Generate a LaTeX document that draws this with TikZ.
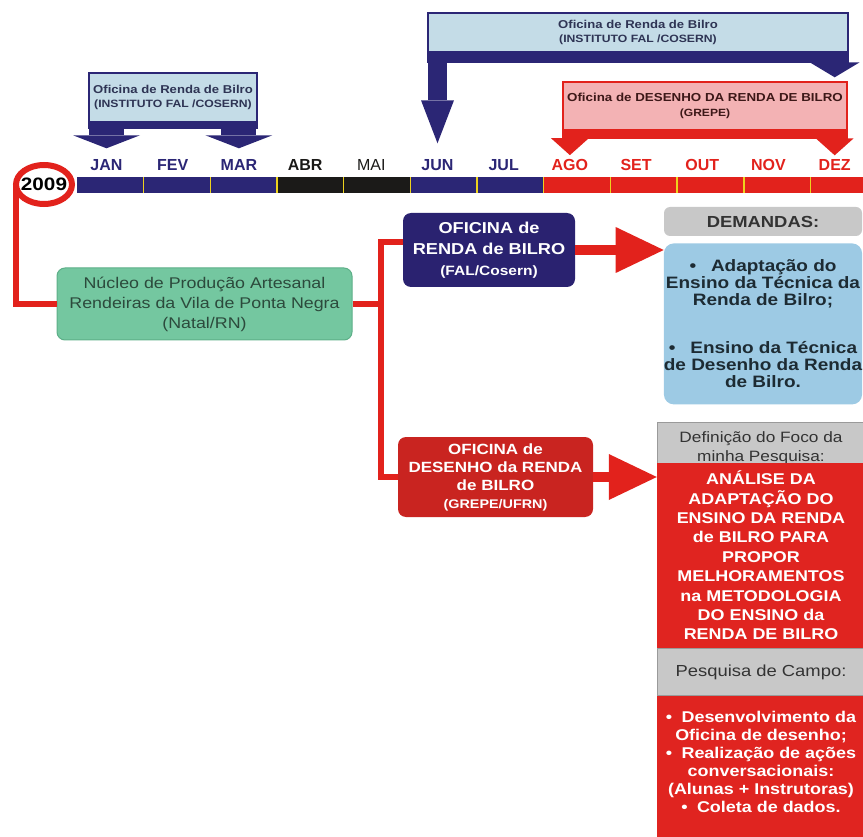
\documentclass[tikz,border=0pt]{standalone}
\usepackage{fontspec}
\setmainfont[FakeStretch=1.15]{Liberation Sans}
\newfontfamily\monthfont{Liberation Sans}
\usetikzlibrary{shapes.geometric, arrows.meta, positioning, calc}
\definecolor{tlnavy}{HTML}{2B2675}
\definecolor{tlred}{HTML}{E2221C}
\definecolor{tlblack}{HTML}{1B1A18}
\definecolor{tlyellow}{HTML}{EDD21E}
\definecolor{boxnavy}{HTML}{2A2270}
\definecolor{boxdark}{HTML}{C92420}
\definecolor{boxred}{HTML}{E02420}
\definecolor{paleblue}{HTML}{C4DCE7}
\definecolor{palepink}{HTML}{F3B2B4}
\definecolor{mint}{HTML}{74C7A0}
\definecolor{mintedge}{HTML}{5DAF88}
\definecolor{minttext}{HTML}{2C4A3C}
\definecolor{skyblue}{HTML}{9DCAE4}
\definecolor{demtext}{HTML}{1D2B33}
\definecolor{tabgray}{HTML}{C8C8C8}
\definecolor{tabedge}{HTML}{9A9A9A}
\definecolor{tabtext}{HTML}{333333}
\definecolor{tophead}{HTML}{2E3454}
\definecolor{grepetext}{HTML}{3D1818}

\begin{document}
\begin{tikzpicture}[
    x=1pt, y=-1pt,
    seg/.style={
        fill=#1, rectangle, inner sep=0pt,
        minimum width=66.67pt, minimum height=16pt, anchor=west,
    },
    monthlbl/.style={
        font=\monthfont\fontsize{16}{16}\selectfont,
        text=#1, anchor=base, inner sep=0pt,
    },
    bracketbox/.style={
        draw=#1, line width=2pt, rectangle,
        inner sep=2pt, align=center,
        font=\fontsize{11.4}{14}\selectfont\bfseries,
    },
    link/.style={draw=tlred, line width=6pt},
    oficina/.style={
        fill=#1, rectangle, rounded corners=8pt,
        align=center, text=white, inner sep=2pt,
    },
    bigarrow/.style={
        draw=tlred, line width=10pt,
        -{Triangle[length=48pt, width=46pt, line width=0pt]},
    },
    graytab/.style={
        fill=tabgray, rectangle, align=center,
        text=tabtext, inner sep=0pt,
    },
    redcol/.style={
        fill=boxred, rectangle, align=center, text=white,
        inner sep=0pt, minimum width=208pt,
    },
]

\useasboundingbox (0,0) rectangle (863,837);

% timeline
\foreach \c [count=\i from 0] in {tlnavy,tlnavy,tlnavy,tlblack,tlblack,tlnavy,tlnavy,tlred,tlred,tlred,tlred,tlred}
    \node[seg=\c] (s\i) at ({77+66.67*\i},185) {};
\foreach \i in {1,...,11}
    \draw[tlyellow, line width=1.6pt] (s\i.north west) -- (s\i.south west);

\foreach \m/\c/\w [count=\i from 0] in {JAN/tlnavy/bx, FEV/tlnavy/bx, MAR/tlnavy/bx, ABR/tlblack/bx, MAI/tlblack/m, JUN/tlnavy/bx, JUL/tlnavy/bx, AGO/tlred/bx, SET/tlred/bx, OUT/tlred/bx, NOV/tlred/bx, DEZ/tlred/bx}
    \node[monthlbl=\c] (m\i) at ({106.5+66.2*\i},171) {\fontseries{\w}\selectfont\m};

\node[ellipse, draw=tlred, line width=6pt, minimum width=56pt, minimum height=39pt, inner sep=0pt] (yr) at (44,184.5) {};
\node[font=\fontsize{18}{18}\selectfont\bfseries, inner sep=0pt] (yrtxt) at (yr) {2009};

% upper brackets
\node[bracketbox=tlnavy, fill=paleblue, text=tophead, minimum width=168pt, minimum height=49pt] (topl) at (173,97.5) {%
    Oficina de Renda de Bilro\\{\fontsize{10.6}{14}\selectfont(INSTITUTO FAL /COSERN)}};
\fill[tlnavy] (topl.south west) rectangle ([yshift=-6pt]topl.south east);
\draw[tlnavy, line width=35pt, -{Triangle[length=13pt, width=67pt, line width=0pt]}, shorten >=11.5pt] (topl.south -| m0) -- (m0.north);
\draw[tlnavy, line width=35pt, -{Triangle[length=13pt, width=67pt, line width=0pt]}, shorten >=11.5pt] (topl.south -| m2) -- (m2.north);

\node[bracketbox=tlnavy, fill=paleblue, text=tophead, minimum width=420pt, minimum height=39pt] (topr) at (638,32.5) {%
    Oficina de Renda de Bilro\\{\fontsize{10.6}{14}\selectfont(INSTITUTO FAL /COSERN)}};
\fill[tlnavy] (topr.south west) rectangle ([yshift=-10pt]topr.south east);
\draw[tlnavy, line width=19pt, -{Triangle[length=43pt, width=33pt, line width=0pt]}, shorten >=16.5pt] (topr.south -| m5) -- (m5.north);
\draw[tlnavy, line width=1pt, -{Triangle[length=15pt, width=50pt, line width=0pt]}, shorten >=82.5pt] (topr.south -| m11) -- (m11.north);

\node[bracketbox=tlred, fill=palepink, text=grepetext, minimum width=284pt, minimum height=48pt, font=\fontsize{11.6}{15}\selectfont\bfseries] (grep) at (705,106) {%
    Oficina de DESENHO DA RENDA DE BILRO\\{\fontsize{10.5}{15}\selectfont(GREPE)}};
\fill[tlred] (grep.south west) rectangle ([yshift=-8pt]grep.south east);
\draw[tlred, line width=1pt, -{Triangle[length=17pt, width=38pt, line width=0pt]}, shorten >=4.5pt] (grep.south -| m7) -- (m7.north);
\draw[tlred, line width=1pt, -{Triangle[length=17pt, width=38pt, line width=0pt]}, shorten >=4.5pt] (grep.south -| m11) -- (m11.north);

% lower part
\node[rectangle, rounded corners=8pt, fill=mint, draw=mintedge, line width=1pt, minimum width=295pt, minimum height=72pt, align=center, text=minttext, font=\fontsize{15.5}{20}\selectfont] (nucleo) at (204.5,304) {%
    Núcleo de Produção Artesanal\\Rendeiras da Vila de Ponta Negra\\(Natal/RN)};

\node[oficina=boxnavy, minimum width=172pt, minimum height=74pt, font=\fontsize{15.8}{21}\selectfont\bfseries] (ofc1) at (489,250) {%
    OFICINA de\\RENDA de BILRO\\{\fontsize{13.5}{21}\selectfont(FAL/Cosern)}};
\node[oficina=boxdark, minimum width=195pt, minimum height=80pt, font=\fontsize{14.8}{18}\selectfont\bfseries] (ofc2) at (495.5,477) {%
    OFICINA de\\DESENHO da RENDA\\de BILRO\\{\fontsize{12.5}{16}\selectfont(GREPE/UFRN)}};

\node[graytab, rounded corners=6pt, minimum width=198pt, minimum height=29pt, font=\fontsize{16}{16}\selectfont\bfseries] (demt) at (763,221.5) {DEMANDAS:};
\node[fill=skyblue, rounded corners=10pt, minimum width=198pt, minimum height=161pt, inner sep=0pt, align=center, text=demtext, font=\fontsize{16.5}{17}\selectfont\bfseries, below=7pt of demt] (demb) {%
    \textbullet\hspace{0.9em}Adaptação do\\Ensino da Técnica da\\Renda de Bilro;\\[31pt]
    \textbullet\hspace{0.9em}Ensino da Técnica\\de Desenho da Renda\\de Bilro.};

\node[graytab, draw=tabedge, line width=0.8pt, minimum width=208pt, minimum height=52pt, font=\fontsize{15}{19}\selectfont] (focot) at (761,448) {%
    Definição do Foco da\\minha Pesquisa:};
\node[redcol, minimum height=185pt, font=\fontsize{15.6}{19.4}\selectfont\bfseries] (foco) at (761,555.5) {%
    ANÁLISE DA\\ADAPTAÇÃO DO\\ENSINO DA RENDA\\de BILRO PARA\\PROPOR\\MELHORAMENTOS\\na METODOLOGIA\\DO ENSINO da\\RENDA DE BILRO};
\node[graytab, draw=tabedge, line width=0.8pt, minimum width=208pt, minimum height=47pt, font=\fontsize{16}{16}\selectfont, below=0pt of foco] (campot) {Pesquisa de Campo:};
\node[redcol, minimum height=150pt, font=\fontsize{15.6}{18}\selectfont\bfseries, below=0pt of campot] (campo) {%
    \textbullet\hspace{0.6em}Desenvolvimento da\\Oficina de desenho;\\
    \textbullet\hspace{0.6em}Realização de ações\\conversacionais:\\(Alunas + Instrutoras)\\
    \textbullet\hspace{0.6em}Coleta de dados.\\[0pt]\mbox{}};

% connectors
\draw[link] ([xshift=3pt]yr.west) |- (nucleo.west);
\coordinate (fork) at ($(nucleo.east)+(28,0)$);
\draw[link] (nucleo.east) -- (fork);
\draw[link] ([yshift=8pt]ofc1.west) -| (fork) |- (ofc2.west);
\draw[bigarrow] (ofc1.east) -- (ofc1.east -| demb.west);
\draw[bigarrow] (ofc2.east) -- (ofc2.east -| foco.west);

\end{tikzpicture}
\end{document}
